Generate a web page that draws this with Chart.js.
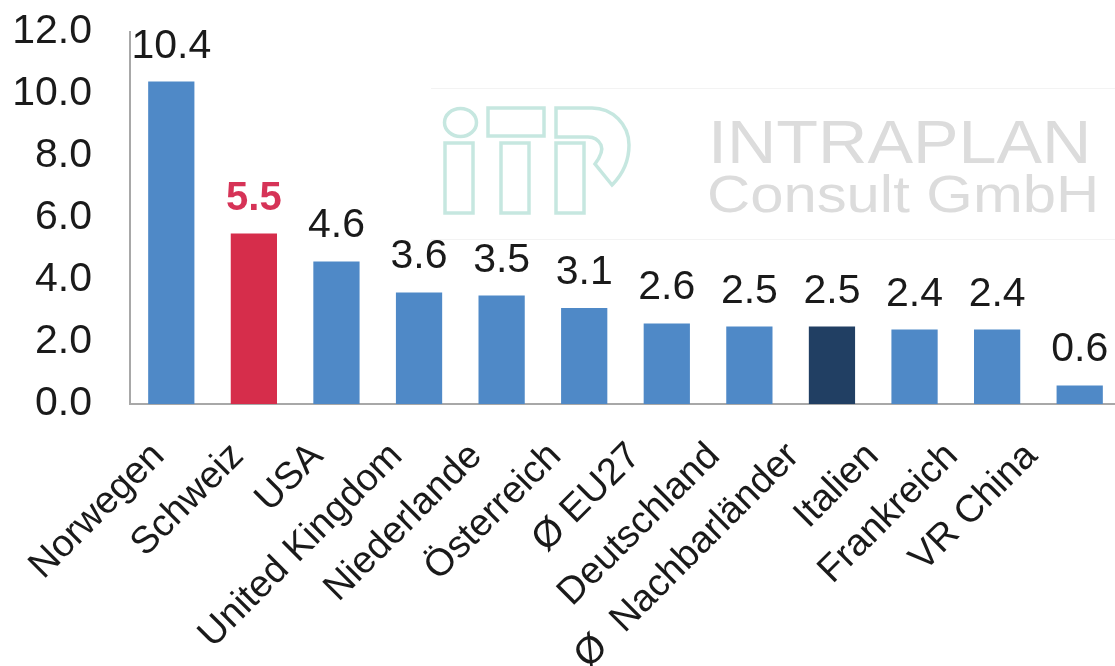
<!DOCTYPE html>
<html>
<head>
<meta charset="utf-8">
<script src="https://cdn.jsdelivr.net/npm/chart.js@4.4.1/dist/chart.umd.min.js"></script>
<style>
  html, body { margin: 0; padding: 0; background: #fff; overflow: hidden; }
  #wrap { position: relative; width: 1115px; height: 666px; overflow: hidden; }
  #chart { position: absolute; left: 0; top: 0; z-index: 2; }
  .wm { position: absolute; z-index: 1; }
  #frame { left: 431px; top: 88px; width: 700px; height: 150px; border-top: 1px solid #f3f3f3; border-bottom: 1px solid #f3f3f3; }
  .wmtext { font-family: "Liberation Sans", Arial, sans-serif; color: #dcdcdc; white-space: nowrap; transform-origin: 0 0; line-height: 1; }
  #wm1 { left: 708px; top: 112px; font-size: 61px; transform: scaleX(1.12); }
  #wm2 { left: 707px; top: 168px; font-size: 52px; transform: scaleX(1.15); }
</style>
</head>
<body>
<div id="wrap">
  <div class="wm" id="frame"></div>
  <svg class="wm" style="left:0;top:0" width="1115" height="666">
    <g fill="none" stroke="#c6e7e0" stroke-width="3.5">
      <ellipse cx="460.5" cy="122.5" rx="16" ry="14"/>
      <rect x="445" y="143" width="28" height="70"/>
      <rect x="488" y="108" width="56" height="28"/>
      <rect x="501" y="143" width="28" height="70"/>
      <rect x="556" y="143" width="28" height="70"/>
      <path d="M556,108 H592 A37,37 0 0 1 629,145 Q629,168 612,185 L595,164 Q604,152 601,145 Q597,137 588,137 H556 Z"/>
    </g>
  </svg>
  <div class="wm wmtext" id="wm1">INTRAPLAN</div>
  <div class="wm wmtext" id="wm2">Consult GmbH</div>
  <canvas id="chart" width="1125" height="666"></canvas>
</div>
<script>
// Kennzahl je Land (Werte aus der Vorlage)
const countries = ['Norwegen', 'Schweiz', 'USA', 'United Kingdom', 'Niederlande', 'Österreich',
  'Ø EU27', 'Deutschland', 'Ø  Nachbarländer', 'Italien', 'Frankreich', 'VR China'];
const values = [10.4, 5.5, 4.6, 3.6, 3.5, 3.1, 2.6, 2.5, 2.5, 2.4, 2.4, 0.6];
const yTicks = [0, 2, 4, 6, 8, 10, 12];

const BLUE = '#4f89c7';
const RED = '#d62d4b';
const NAVY = '#213f63';
const barColors = countries.map((c, i) => i === 1 ? RED : (i === 8 ? NAVY : BLUE));

const FONT = '"Liberation Sans", Arial, sans-serif';

// values above the bars
const valueLabels = {
  id: 'valueLabels',
  afterDatasetsDraw(chart) {
    const ctx = chart.ctx;
    const meta = chart.getDatasetMeta(0);
    ctx.save();
    ctx.textAlign = 'center';
    ctx.textBaseline = 'alphabetic';
    meta.data.forEach((bar, i) => {
      if (i === 1) {
        ctx.font = 'bold 40px ' + FONT;
        ctx.fillStyle = '#d63357';
      } else {
        ctx.font = '41px ' + FONT;
        ctx.fillStyle = '#1a1a1a';
      }
      ctx.fillText(values[i].toFixed(1), bar.x, bar.y - 24);
    });
    ctx.restore();
  }
};

const ctx = document.getElementById('chart').getContext('2d');
new Chart(ctx, {
  type: 'bar',
  data: {
    labels: countries,
    datasets: [{
      data: values,
      backgroundColor: barColors,
      borderWidth: 0,
      barPercentage: 0.56,
      categoryPercentage: 1.0
    }]
  },
  options: {
    responsive: false,
    animation: false,
    layout: { padding: { top: 0, right: 4, left: 0, bottom: 0 } },
    plugins: {
      legend: { display: false },
      tooltip: { enabled: false }
    },
    scales: {
      x: {
        type: 'category',
        position: 'bottom',
        grid: { display: false, drawTicks: false },
        border: { display: true, color: '#a8a8a8', width: 2 },
        ticks: { display: false },
        afterFit: s => { s.height = 0; }
      },
      // separate axis for the slanted country names (their spacing differs slightly from the bars)
      xl: {
        type: 'linear',
        position: 'bottom',
        offset: false,
        min: -0.359,
        max: 12.128,
        grid: { display: false, drawTicks: false },
        border: { display: false },
        ticks: {
          autoSkip: false,
          minRotation: 45,
          maxRotation: 45,
          padding: 30,
          color: '#1a1a1a',
          font: { family: FONT, size: 38 },
          callback: v => countries[v]
        },
        afterBuildTicks: s => { s.ticks = countries.map((c, i) => ({ value: i })); },
        afterFit: s => { s.height = 262; s.paddingLeft = 0; s.paddingRight = 0; }
      },
      y: {
        min: 0,
        max: 12,
        grid: { display: false, drawTicks: false },
        border: { display: true, color: '#a8a8a8', width: 2 },
        ticks: {
          padding: 38,
          color: '#1a1a1a',
          font: { family: FONT, size: 41 },
          callback: v => v.toFixed(1)
        },
        afterBuildTicks: s => { s.ticks = yTicks.map(v => ({ value: v })); },
        afterFit: s => { s.width = 130; s.paddingTop = 32; s.paddingBottom = 0; }
      }
    }
  },
  plugins: [valueLabels]
});
</script>
</body>
</html>
